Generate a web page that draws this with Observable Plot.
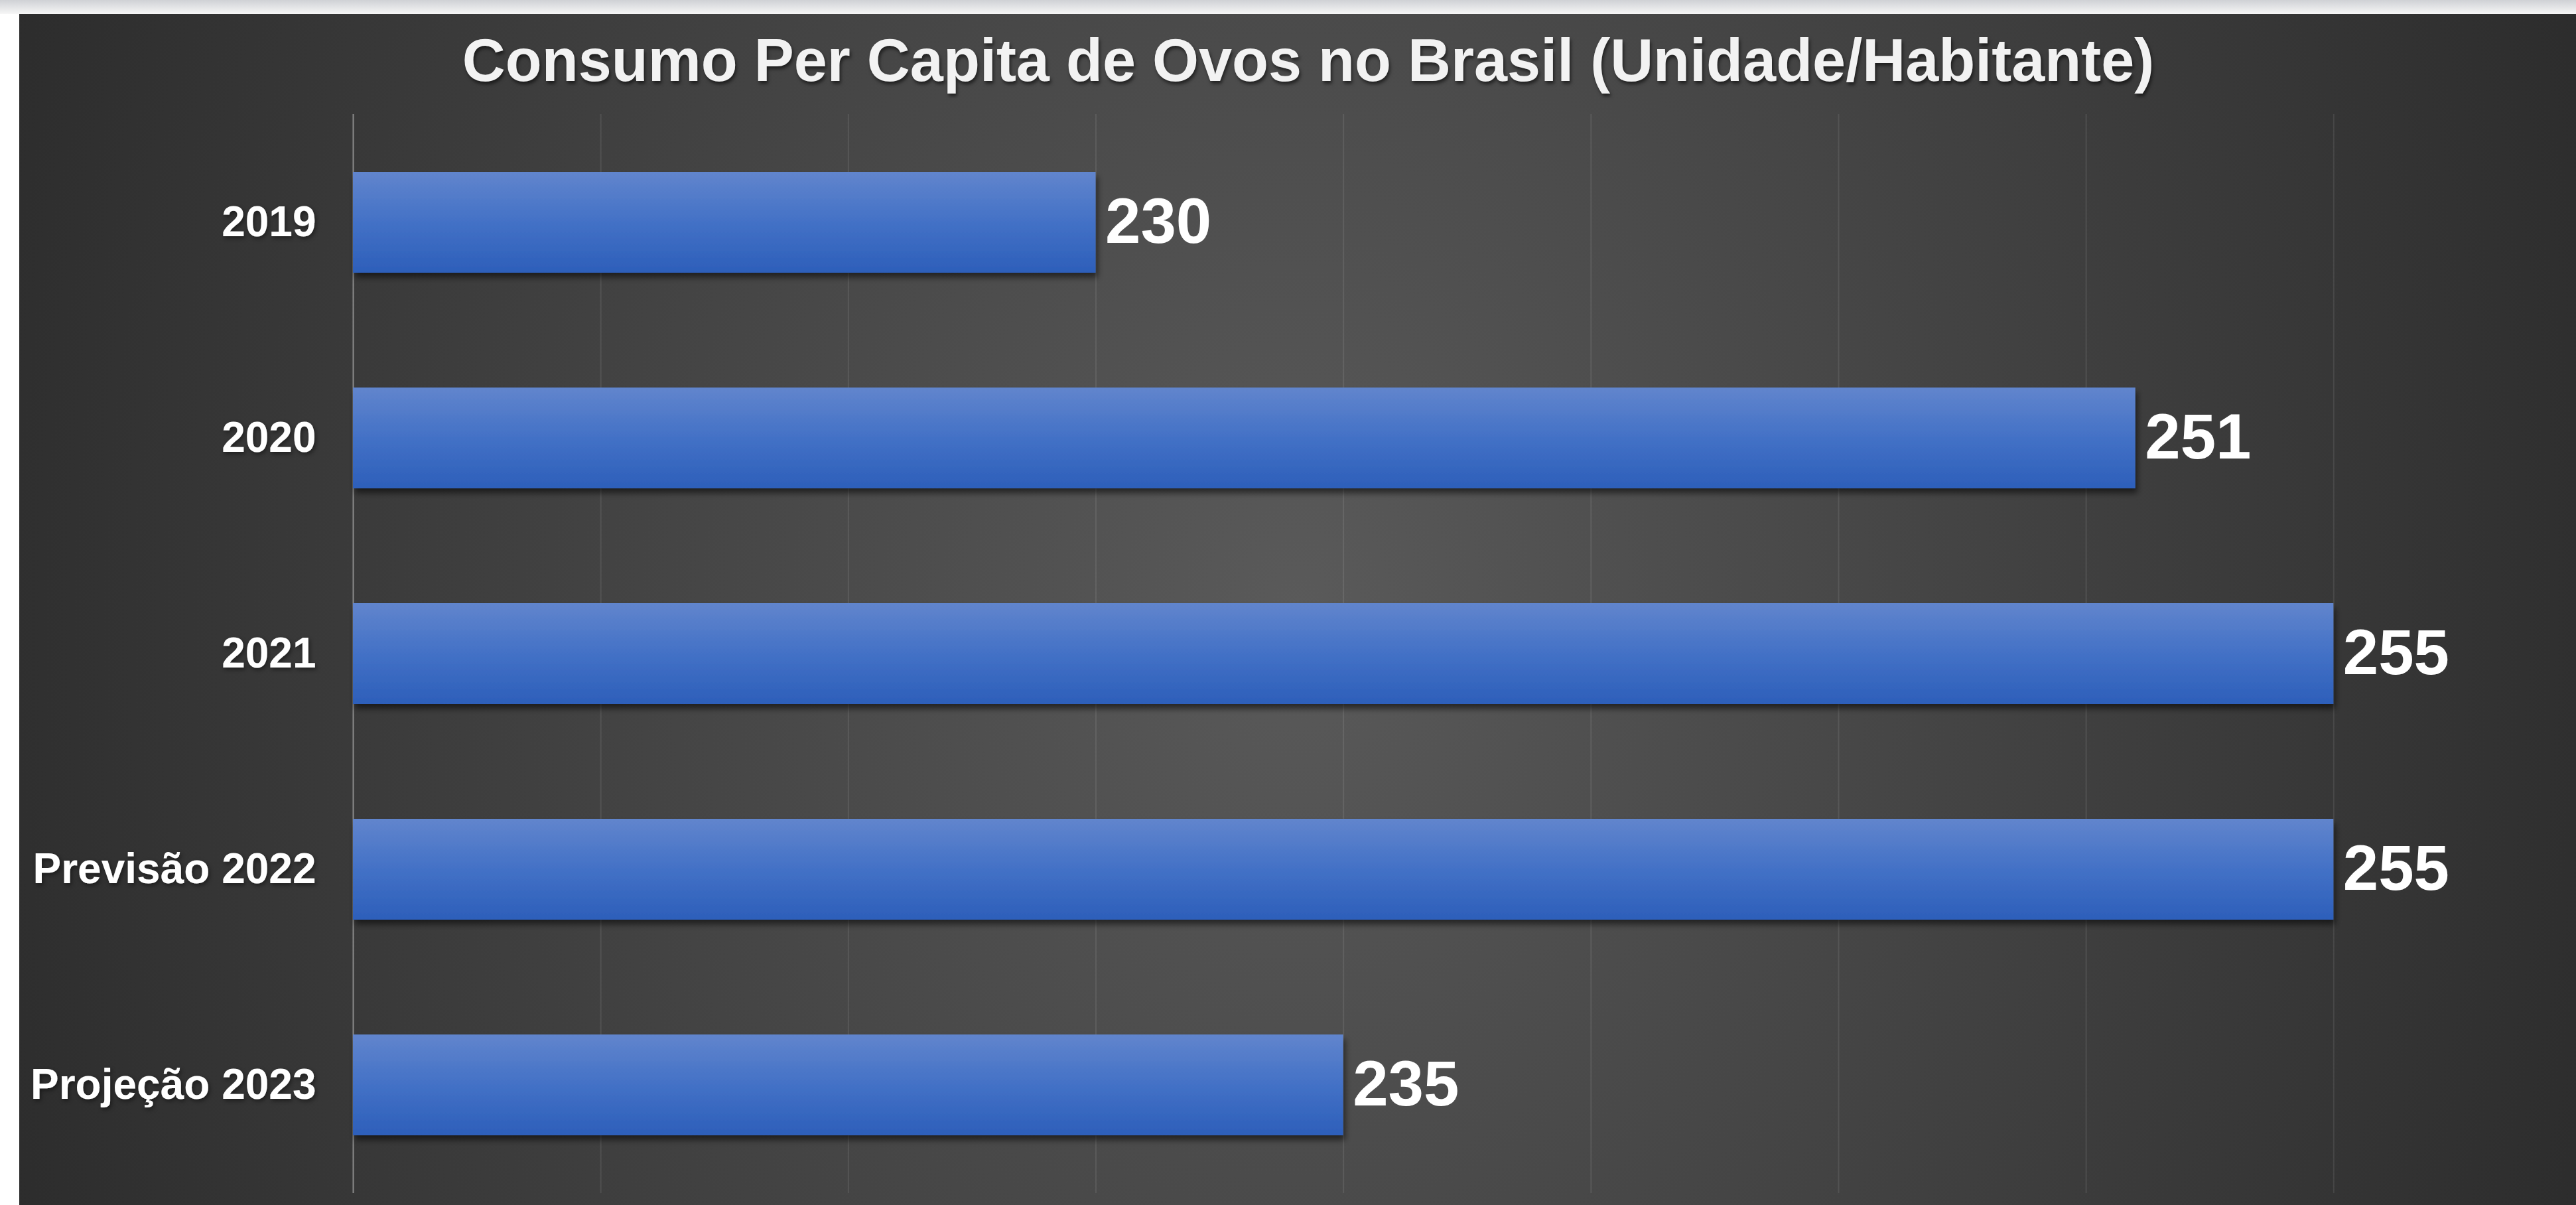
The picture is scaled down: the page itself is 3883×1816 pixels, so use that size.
<!DOCTYPE html>
<html>
<head>
<meta charset="utf-8">
<script src="https://cdn.jsdelivr.net/npm/d3@7"></script>
<script src="https://cdn.jsdelivr.net/npm/@observablehq/plot@0.6"></script>
<style>
  html, body { margin: 0; padding: 0; background: #ffffff; width: 3883px; height: 1816px; overflow: hidden; }
  #topstrip { position: absolute; left: 0; top: 0; width: 3883px; height: 21px; background: linear-gradient(#cfd1d5, #f6f6f6); }
  #chart {
    position: absolute; left: 29px; top: 21px; width: 3854px; height: 1795px;
    background: radial-gradient(ellipse 55% 150% at 50% 50%, #5a5a5a 0%, #2b2b2b 100%);
    font-family: "Liberation Sans", Arial, sans-serif;
  }
  #title {
    height: 129px; box-sizing: border-box; padding-top: 25px; padding-left: 32px;
    font-size: 90px; line-height: 90px; font-weight: bold; color: #f2f2f2;
    text-align: center; white-space: nowrap;
    text-shadow: 2px 4px 5px rgba(0,0,0,0.55);
  }
  #chart svg { display: block; }
</style>
</head>
<body>
<div id="topstrip"></div>
<div id="chart">
  <div id="title">Consumo Per Capita de Ovos no Brasil (Unidade/Habitante)</div>
</div>
<script>
const categories = ["2019", "2020", "2021", "Previsão 2022", "Projeção 2023"];
const values = [230, 251, 255, 255, 235];
const gridTicks = [220, 225, 230, 235, 240, 245, 250, 255];
const axisMin = 215;
const axisMax = 259.9;

const data = categories.map((c, i) => ({category: c, value: values[i]}));

const plot = Plot.plot({
  width: 3854,
  height: 1666,
  marginLeft: 503,
  marginRight: 0,
  marginTop: 22,
  marginBottom: 18,
  style: {
    background: "transparent",
    color: "#ffffff",
    fontFamily: "'Liberation Sans', Arial, sans-serif",
    fontSize: "64px",
    fontWeight: "bold",
    overflow: "visible"
  },
  x: {domain: [axisMin, axisMax], axis: null},
  y: {domain: categories, paddingInner: 0.5326, paddingOuter: 0.2663, tickSize: 0, tickPadding: 56, label: null},
  marks: [
    Plot.ruleX(gridTicks, {stroke: "#ffffff", strokeOpacity: 0.09, strokeWidth: 2}),
    Plot.ruleX([axisMin], {stroke: "#8a8a8a", strokeWidth: 2}),
    Plot.barX(data, {x1: axisMin, x2: "value", y: "category", fill: "url(#barGrad)"}),
    Plot.text(data, {x: "value", y: "category", text: d => String(d.value), dx: 14, textAnchor: "start", fontSize: 96, fontWeight: "bold", fill: "#ffffff"})
  ]
});

// gradient + shadow definitions
const ns = "http://www.w3.org/2000/svg";
const defs = document.createElementNS(ns, "defs");
defs.innerHTML = `
  <linearGradient id="barGrad" x1="0" y1="0" x2="0" y2="1">
    <stop offset="0%" stop-color="#6185cd"/>
    <stop offset="50%" stop-color="#4371c6"/>
    <stop offset="100%" stop-color="#2d5fba"/>
  </linearGradient>
  <filter id="barShadow" x="-5%" y="-20%" width="115%" height="160%">
    <feDropShadow dx="3" dy="7" stdDeviation="5" flood-color="#000" flood-opacity="0.55"/>
  </filter>
  <filter id="textShadow" x="-10%" y="-20%" width="130%" height="160%">
    <feDropShadow dx="2" dy="3" stdDeviation="3" flood-color="#000" flood-opacity="0.45"/>
  </filter>`;
plot.insertBefore(defs, plot.firstChild);
const barG = plot.querySelector('g[aria-label="bar"]');
if (barG) barG.setAttribute("filter", "url(#barShadow)");
const yAxis = plot.querySelector('g[aria-label="y-axis"]') || plot.querySelector('g[aria-label="y-axis tick label"]');
if (yAxis) yAxis.setAttribute("filter", "url(#textShadow)");

document.getElementById("chart").appendChild(plot);
</script>
</body>
</html>
